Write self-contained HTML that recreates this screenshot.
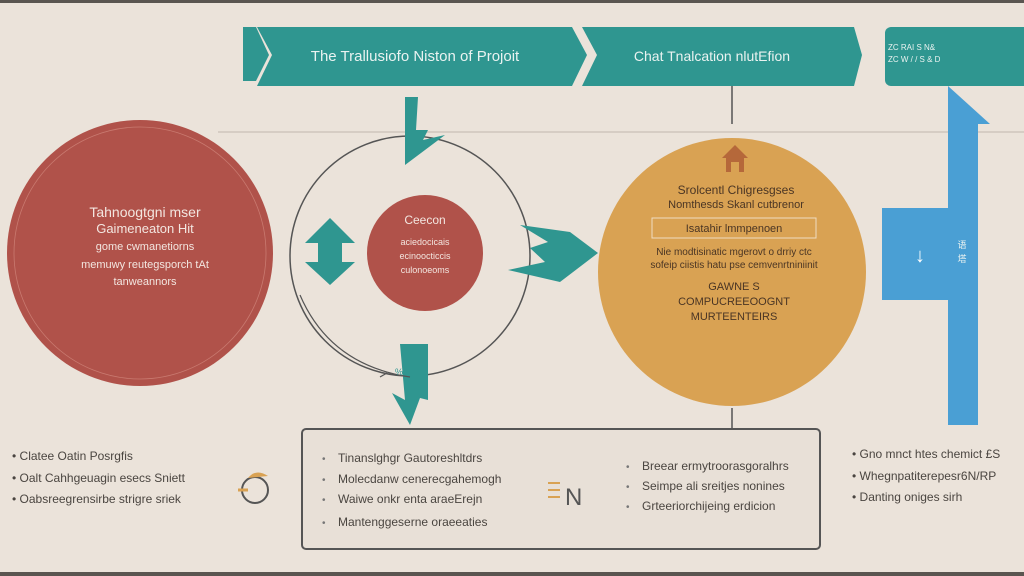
<!DOCTYPE html>
<html><head><meta charset="utf-8"><style>
body{margin:0;width:1024px;height:576px;overflow:hidden;background:#ebe3da;font-family:"Liberation Sans",sans-serif}
svg{display:block}
</style></head><body>
<svg width="1024" height="576" viewBox="0 0 1024 576">
<rect width="1024" height="576" fill="#ebe3da"/>
<rect width="1024" height="3" fill="#5a5550"/>
<rect y="572" width="1024" height="4" fill="#5a5550"/>
<line x1="218" y1="132" x2="1024" y2="132" stroke="#cfc6bc" stroke-width="1.5"/>
<!-- banners -->
<polygon points="243,27 256,27 269,55 256,81 243,81" fill="#2f9690"/>
<polygon points="257,27 572,27 587,55 572,86 257,86 272,55" fill="#2f9690"/>
<polygon points="582,27 854,27 862,55 854,86 582,86 597,55" fill="#2f9690"/>
<rect x="885" y="27" width="150" height="59" rx="6" fill="#2f9690"/>
<text x="415" y="61" fill="#eaf3f1" font-size="15" text-anchor="middle">The Trallusiofo Niston of Projoit</text>
<text x="712" y="61" fill="#eaf3f1" font-size="14" text-anchor="middle">Chat Tnalcation nlutEfion</text>
<text x="888" y="50" fill="#eaf3f1" font-size="8">ZC RAI S N&amp;</text>
<text x="888" y="62" fill="#eaf3f1" font-size="8">ZC W / / S &amp; D</text>
<!-- connectors -->
<line x1="732" y1="86" x2="732" y2="124" stroke="#555" stroke-width="1.5"/>
<path d="M732,408 L732,440 Q730,452 720,448" fill="none" stroke="#555" stroke-width="1.5"/>
<!-- blue -->
<rect x="948" y="120" width="30" height="305" fill="#4a9fd4"/>
<polygon points="948,86 990,124 948,124" fill="#4a9fd4"/>
<rect x="882" y="208" width="96" height="92" fill="#4a9fd4"/>
<text x="920" y="262" fill="#fff" font-size="20" text-anchor="middle">↓</text>
<text x="962" y="248" fill="#eaf3f1" font-size="9" text-anchor="middle">语</text>
<text x="962" y="262" fill="#eaf3f1" font-size="9" text-anchor="middle">塔</text>
<!-- red circle -->
<circle cx="140" cy="253" r="133" fill="#b0524a"/>
<circle cx="140" cy="253" r="126" fill="none" stroke="#c97a70" stroke-width="0.8"/>
<g fill="#f3e6e0" text-anchor="middle">
<text x="145" y="217" font-size="14">Tahnoogtgni mser</text>
<text x="145" y="233" font-size="13">Gaimeneaton Hit</text>
<text x="145" y="250" font-size="11">gome cwmanetiorns</text>
<text x="145" y="268" font-size="11">memuwy reutegsporch tAt</text>
<text x="145" y="285" font-size="11">tanweannors</text>
</g>
<!-- outline circle -->
<circle cx="410" cy="256" r="120" fill="none" stroke="#555" stroke-width="1.5"/>
<circle cx="425" cy="253" r="58" fill="#b0524a"/>
<g fill="#f3e6e0" text-anchor="middle">
<text x="425" y="224" font-size="12">Ceecon</text>
<text x="425" y="245" font-size="9">aciedocicais</text>
<text x="425" y="259" font-size="9">ecinoocticcis</text>
<text x="425" y="273" font-size="9">culonoeoms</text>
</g>
<!-- teal arrows -->
<polygon points="405,97 418,97 416,130 428,130 423,140 445,135 405,165" fill="#2f9690"/>
<polygon points="330,218 355,243 342,243 342,262 355,262 330,285 305,262 318,262 318,243 305,243" fill="#2f9690"/>
<polygon points="520,225 570,232 598,253 560,282 508,270 545,262 530,248 548,242" fill="#2f9690"/>
<polygon points="400,344 428,344 428,400 420,398 410,425 392,393 405,400" fill="#2f9690"/>
<path d="M300,295 Q330,365 410,377 M380,377 L387,373" fill="none" stroke="#555" stroke-width="1.2"/>
<text x="395" y="375" fill="#2f9690" font-size="9">%</text>
<!-- orange circle -->
<circle cx="732" cy="272" r="134" fill="#d9a253"/>
<g fill="#b5683a"><polygon points="735,145 722,158 748,158"/><rect x="726" y="158" width="18" height="14"/></g>
<rect x="731" y="162" width="8" height="10" fill="#d9a253"/>
<g fill="#4a3524" text-anchor="middle">
<text x="736" y="194" font-size="12">Srolcentl Chigresgses</text>
<text x="736" y="208" font-size="11">Nomthesds Skanl cutbrenor</text>
<rect x="652" y="218" width="164" height="20" fill="none" stroke="#f0dcc0" stroke-width="1"/>
<text x="734" y="232" font-size="11">Isatahir lmmpenoen</text>
<text x="734" y="255" font-size="10">Nie modtisinatic mgerovt o drriy ctc</text>
<text x="734" y="268" font-size="10">sofeip ciistis hatu pse cemvenrtniniinit</text>
<text x="734" y="290" font-size="11">GAWNE S</text>
<text x="734" y="305" font-size="11">COMPUCREEOOGNT</text>
<text x="734" y="320" font-size="11">MURTEENTEIRS</text>
</g>
<!-- bottom box -->
<rect x="302" y="429" width="518" height="120" rx="4" fill="#e8e0d7" stroke="#555" stroke-width="2"/>
<g fill="#4a4540" font-size="12">
<text x="338" y="462">Tinanslghgr Gautoreshltdrs</text>
<text x="338" y="483">Molecdanw cenerecgahemogh</text>
<text x="338" y="503">Waiwe onkr enta araeErejn</text>
<text x="338" y="526">Mantenggeserne oraeeaties</text>
<text x="642" y="470">Breear ermytroorasgoralhrs</text>
<text x="642" y="490">Seimpe ali sreitjes nonines</text>
<text x="642" y="510">Grteeriorchijeing erdicion</text>
</g>
<g fill="#777" font-size="10">
<text x="322" y="462">•</text><text x="322" y="483">•</text><text x="322" y="503">•</text><text x="322" y="526">•</text>
<text x="626" y="470">•</text><text x="626" y="490">•</text><text x="626" y="510">•</text>
</g>
<text x="565" y="505" font-size="24" fill="#555">N</text>
<path d="M548,483 h12 M548,490 h12 M548,497 h12" stroke="#d9a253" stroke-width="2"/>
<!-- left bullets -->
<g fill="#4a4540" font-size="12">
<text x="12" y="460">• Clatee Oatin Posrgfis</text>
<text x="12" y="482">• Oalt Cahhgeuagin esecs Sniett</text>
<text x="12" y="503">• Oabsreegrensirbe strigre sriek</text>
<text x="852" y="458">• Gno mnct htes chemict £S</text>
<text x="852" y="480">• Whegnpatiterepesr6N/RP</text>
<text x="852" y="501">• Danting oniges sirh</text>
</g>
<circle cx="255" cy="490" r="13" fill="none" stroke="#555" stroke-width="2"/>
<path d="M238,490 h10" stroke="#d9a253" stroke-width="3"/>
<path d="M248,478 q8,-10 20,-2" fill="#d9a253"/>
</svg>
</body></html>
